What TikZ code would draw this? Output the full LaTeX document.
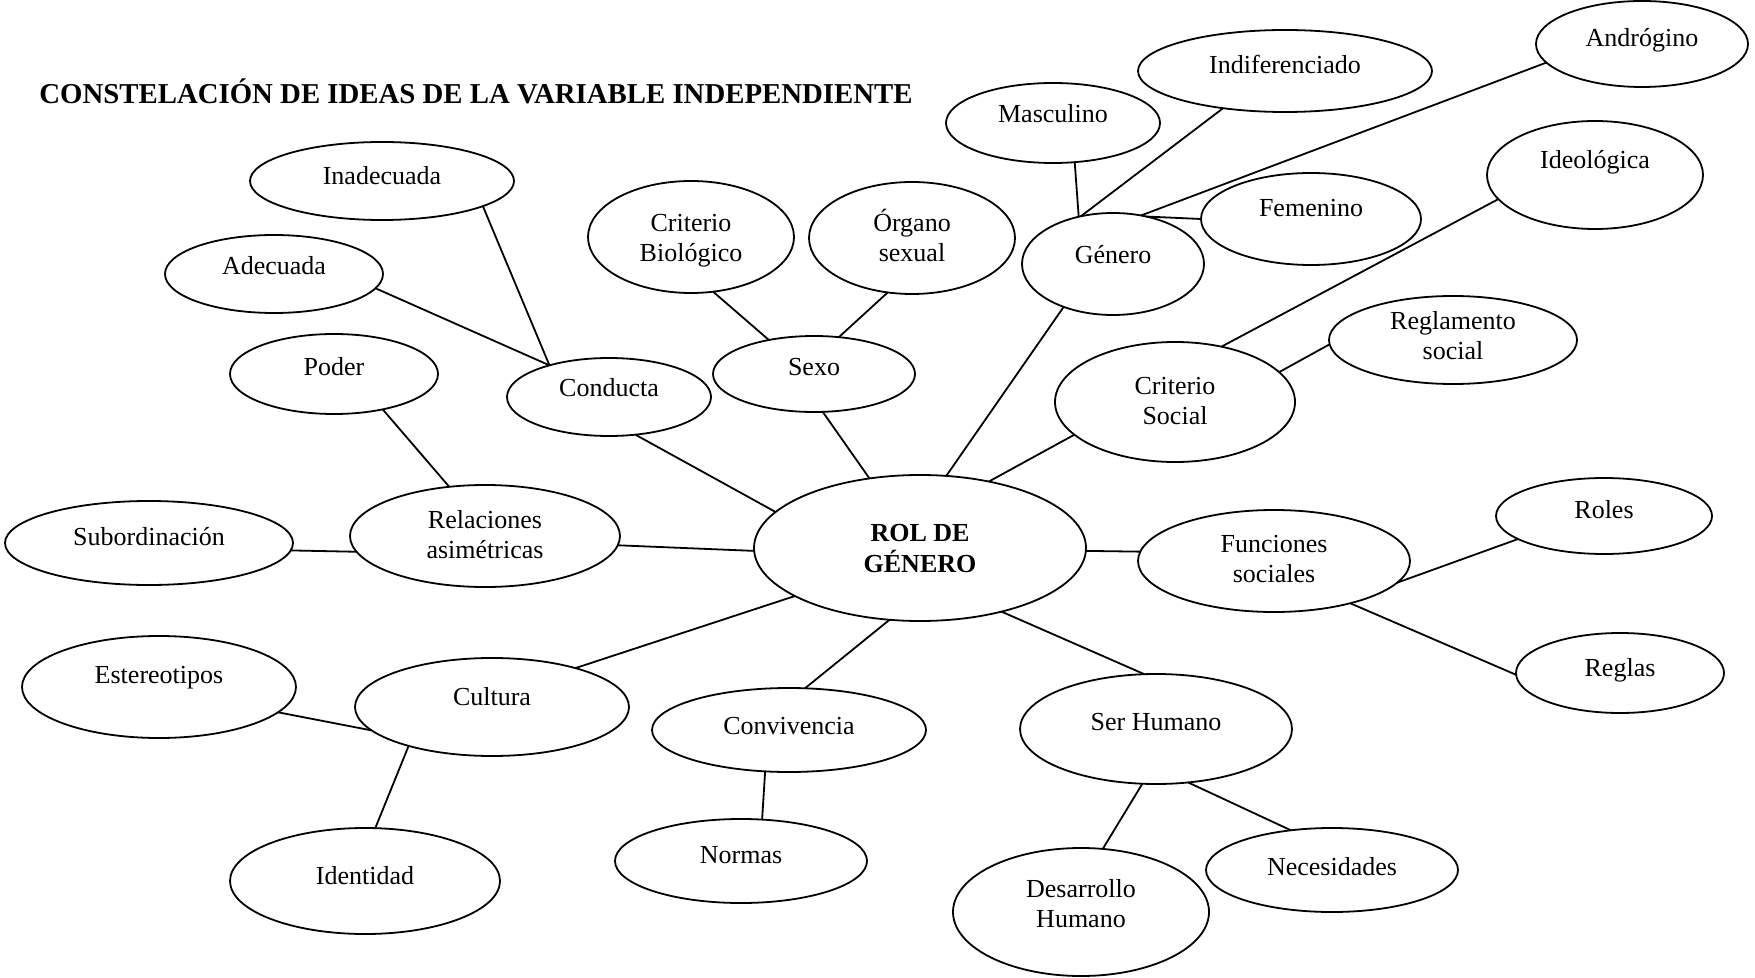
\documentclass[tikz,border=0pt]{standalone}
\usepackage{fontspec}
\setmainfont{Liberation Serif}
\usetikzlibrary{shapes.geometric}
\newcommand{\ovtext}[2]{\raisebox{#1pt}[0pt][0pt]{\begin{tabular}[b]{@{}c@{}}#2\end{tabular}}}
\tikzset{
  oval/.style 2 args={ellipse, draw, line width=0.9pt, inner sep=0pt, outer sep=0pt,
    minimum width=#1pt, minimum height=#2pt, font=\fontsize{13}{15}\selectfont},
  conn/.style={line width=0.9pt},
  ttl/.style={anchor=base west, inner sep=0pt, font=\fontsize{14.4}{17}\selectfont\bfseries}
}
\begin{document}
\begin{tikzpicture}[x=0.5pt, y=-0.5pt]
\useasboundingbox (0,0) rectangle (1755,978);
\node[ttl] (title) at (39,104) {CONSTELACIÓN DE IDEAS DE LA VARIABLE INDEPENDIENTE};

\node[oval={166}{73}] (rol) at (920,548) {\ovtext{-12.3}{\textbf{ROL DE}\\\textbf{GÉNERO}}};
\node[oval={102}{39}] (cond) at (609,397) {\ovtext{0.2}{Conducta}};
\node[oval={101}{38}] (sexo) at (814,374) {\ovtext{-0.8}{Sexo}};
\node[oval={91}{51}] (gen) at (1113,264) {\ovtext{0.2}{Género}};
\node[oval={120}{60}] (csoc) at (1175,402) {\ovtext{-11.3}{Criterio\\Social}};
\node[oval={136}{51}] (func) at (1274,561) {\ovtext{-10.8}{Funciones\\sociales}};
\node[oval={136}{55}] (serh) at (1156,729) {\ovtext{-0.8}{Ser Humano}};
\node[oval={137}{42}] (conv) at (789,730) {\ovtext{-2.3}{Convivencia}};
\node[oval={137}{49}] (cult) at (492,707) {\ovtext{0.7}{Cultura}};
\node[oval={135}{51}] (rel) at (485,536) {\ovtext{-11.3}{Relaciones\\asimétricas}};
\node[oval={104}{40}] (poder) at (334,374) {\ovtext{-0.8}{Poder}};
\node[oval={144}{42}] (sub) at (149,543) {\ovtext{-1.3}{Subordinación}};
\node[oval={137}{51}] (este) at (159,687) {\ovtext{1.7}{Estereotipos}};
\node[oval={135}{53}] (iden) at (365,881) {\ovtext{-1.8}{Identidad}};
\node[oval={126}{42}] (norm) at (741,861) {\ovtext{-1.3}{Normas}};
\node[oval={128}{64}] (desa) at (1081,912) {\ovtext{-7.8}{Desarrollo\\Humano}};
\node[oval={126}{42}] (nece) at (1332,870) {\ovtext{-2.8}{Necesidades}};
\node[oval={108}{38}] (roles) at (1604,516) {\ovtext{-1.3}{Roles}};
\node[oval={104}{40}] (reglas) at (1620,673) {\ovtext{-1.8}{Reglas}};
\node[oval={124}{44}] (regs) at (1453,340) {\ovtext{-9.8}{Reglamento\\social}};
\node[oval={108}{54}] (ideo) at (1595,175) {\ovtext{3.2}{Ideológica}};
\node[oval={110}{46}] (fem) at (1311,219) {\ovtext{1.2}{Femenino}};
\node[oval={106}{43}] (andr) at (1642,44) {\ovtext{-1.3}{Andrógino}};
\node[oval={147}{41}] (indif) at (1285,71) {\ovtext{-1.3}{Indiferenciado}};
\node[oval={107}{40}] (masc) at (1053,123) {\ovtext{0.2}{Masculino}};
\node[oval={103}{56}] (cbio) at (691,237) {\ovtext{-12.3}{Criterio\\Biológico}};
\node[oval={103}{56}] (org) at (912,238) {\ovtext{-11.8}{Órgano\\sexual}};
\node[oval={109}{39}] (adec) at (274,274) {\ovtext{-0.3}{Adecuada}};
\node[oval={132}{39}] (inad) at (382,181) {\ovtext{-1.8}{Inadecuada}};

% connectors
\draw[conn] (cond.-55) -- (rol.166);
\draw[conn] (sexo.-77) -- (rol.126);
\draw[conn] (gen.221) -- (rol.70);
\draw[conn] (csoc.198) -- (rol.44);
\draw[conn] (rol.-1) -- (func.176);
\draw[conn] (rol.-38) -- (serh.102);
\draw[conn] (rol.-113) -- (conv.69);
\draw[conn] (rol.201) -- (cult.25);
\draw[conn] (rel.-4) -- (rol.181);
\draw[conn] (adec.-8) -- (cond.152);
\draw[conn] (inad.-14) -- (cond.152);
\draw[conn] (poder.-36) -- (rel.126);
\draw[conn] (sub.-3) -- (rel.187);
\draw[conn] (este.-12) -- (cult.191);
\draw[conn] (cult.205) -- (iden.79);
\draw[conn] (conv.-120) -- (norm.63);
\draw[conn] (serh.-104) -- (desa.71);
\draw[conn] (serh.-59) -- (nece.136);
\draw[conn] (func.-10) -- (roles.195);
\draw[conn] (func.-29) -- (reglas.181);
\draw[conn] (masc.-61) -- (gen.126);
\draw[conn] (indif.211) -- (gen.124);
\draw[conn] (andr.191) -- (gen.60);
\draw[conn] (gen.55) -- (fem.180);
\draw[conn] (csoc.50) -- (ideo.194);
\draw[conn] (csoc.16) -- (regs.182);
\draw[conn] (sexo.143) -- (cbio.-68);
\draw[conn] (sexo.56) -- (org.-114);
\end{tikzpicture}
\end{document}
